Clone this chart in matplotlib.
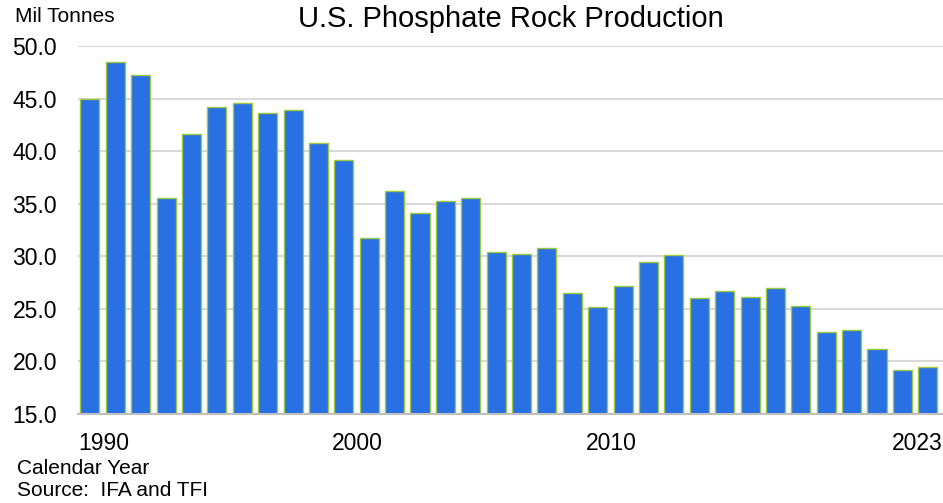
import numpy as np
import matplotlib
matplotlib.use('Agg')
import matplotlib.pyplot as plt

plt.rcParams['font.family'] = ['Liberation Sans', 'DejaVu Sans']

years = np.arange(1990, 2024)
production = [45.0, 48.5, 47.2, 35.5, 41.6, 44.2, 44.6, 43.6, 43.9, 40.8,
              39.2, 31.7, 36.2, 34.1, 35.3, 35.5, 30.4, 30.2, 30.8, 26.5,
              25.2, 27.2, 29.5, 30.1, 26.0, 26.7, 26.1, 27.0, 25.3, 22.8,
              23.0, 21.2, 19.2, 19.5]
yticks = [15, 20, 25, 30, 35, 40, 45, 50]
xlabel_years = [1990, 2000, 2010, 2023]

fig = plt.figure(figsize=(9.43, 5.03), dpi=100)
ax = fig.add_axes([78/943, 1-414/503, 1-78/943, (414-46)/503])

ax.bar(years, production, width=0.75, bottom=0, color='#2870E3',
       edgecolor='#9BCB3C', linewidth=1.0, zorder=3)

ax.set_ylim(15, 50)
ax.set_xlim(1989.53, 2023.6)
ax.set_yticks(yticks)
ax.set_yticklabels(['%.1f' % v for v in yticks])
ax.yaxis.grid(True, color='#D9D9D9', linewidth=1.5, zorder=0)

# year labels sit a bit right of the bar; last one pulled in to fit
xpos = [y + 0.55 for y in xlabel_years[:-1]] + [xlabel_years[-1] - 0.43]
ax.set_xticks(xpos)
ax.set_xticklabels([str(y) for y in xlabel_years])

ax.tick_params(axis='both', length=0, labelsize=16.5, colors='black')
ax.tick_params(axis='y', pad=15)
ax.tick_params(axis='x', pad=13)
for s in ['top', 'right', 'left']:
    ax.spines[s].set_visible(False)
ax.spines['bottom'].set_color('#BFBFBF')
ax.spines['bottom'].set_linewidth(1.5)
ax.spines['bottom'].set_zorder(4)

fig.text(511/943, 1-19/503, 'U.S. Phosphate Rock Production', fontsize=21,
         ha='center', va='center')
fig.text(15/943, 1-17/503, 'Mil Tonnes', fontsize=15, ha='left', va='center')
fig.text(17/943, 1-468/503, 'Calendar Year', fontsize=15, ha='left', va='center')
fig.text(17/943, 1-490/503, 'Source:  IFA and TFI', fontsize=15, ha='left', va='center')

fig.savefig('out.png', dpi=100)
